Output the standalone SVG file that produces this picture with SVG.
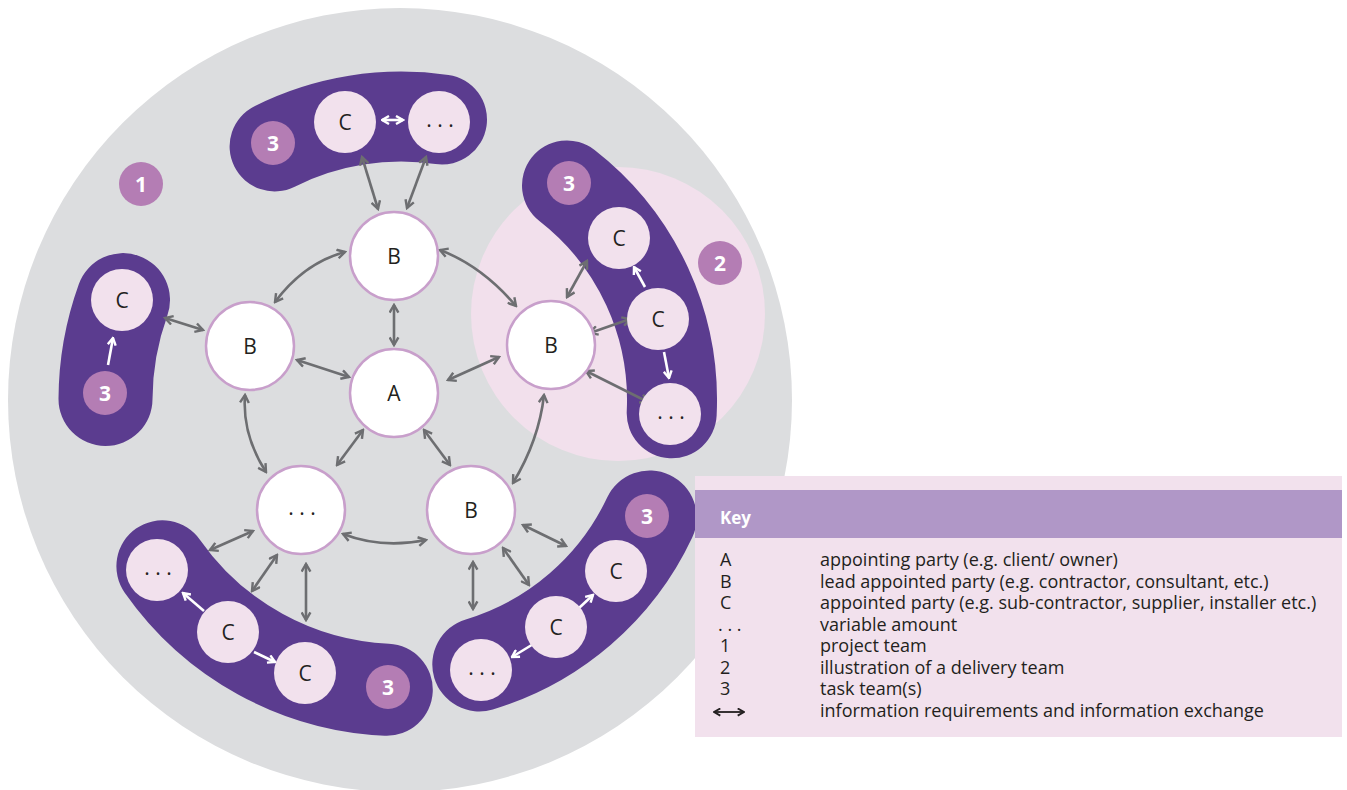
<svg xmlns="http://www.w3.org/2000/svg" width="1347" height="790" viewBox="0 0 1347 790">
<defs>
<style>
.t{font-family:"Open Sans","Liberation Sans",sans-serif;fill:#231f20}
.n{fill:#fff;stroke:#c89fcb;stroke-width:2.5}
.c{fill:#f2e1ed}
.lbl{font-size:21px;text-anchor:middle}
.badge{fill:#b47db4}
.bt{font-family:"Open Sans","Liberation Sans",sans-serif;font-weight:bold;font-size:21px;fill:#fff;text-anchor:middle}
.band{fill:none;stroke:#5b3c8f;stroke-linecap:round}
.conn{fill:none;stroke:#6d6e71;stroke-width:2.6;marker-start:url(#ag);marker-end:url(#ag)}
.w1{fill:none;stroke:#fff;stroke-width:2.6;marker-end:url(#aw)}
.w2{fill:none;stroke:#fff;stroke-width:2.6;marker-start:url(#aw);marker-end:url(#aw)}
.key{font-family:"Open Sans","Liberation Sans",sans-serif;font-size:18px;fill:#231f20}
</style>
<marker id="ag" viewBox="0 0 10 10" refX="8.5" refY="5" markerWidth="11" markerHeight="11" markerUnits="userSpaceOnUse" orient="auto-start-reverse"><path d="M1.5,1 L8.5,5 L1.5,9" fill="none" stroke="#6d6e71" stroke-width="2.2"/></marker>
<marker id="aw" viewBox="0 0 10 10" refX="8.5" refY="5" markerWidth="10" markerHeight="10" markerUnits="userSpaceOnUse" orient="auto-start-reverse"><path d="M1.5,1 L8.5,5 L1.5,9" fill="none" stroke="#fff" stroke-width="2.4"/></marker>
<marker id="ak" viewBox="0 0 10 10" refX="8.5" refY="5" markerWidth="9" markerHeight="9" markerUnits="userSpaceOnUse" orient="auto-start-reverse"><path d="M1.5,1 L8.5,5 L1.5,9" fill="none" stroke="#231f20" stroke-width="2"/></marker>
</defs>
<rect width="1347" height="790" fill="#fff"/>
<g id="project-team">
<circle cx="400" cy="400" r="392" fill="#dcdddf"/>
</g>
<g id="delivery-team">
<circle cx="618" cy="314" r="147" fill="#f2e0ec"/>
</g>
<g id="task-team-bands">
<path class="band" stroke-width="90" d="M274.6,146.4 A283,283 0 0,1 442,119.5"/>
<path class="band" stroke-width="90" d="M567,185.4 A272,272 0 0,1 671.7,413.3"/>
<path class="band" stroke-width="94" d="M123,300.1 A295,295 0 0,0 105.5,399"/>
<path class="band" stroke-width="92" d="M162.4,566.3 A290,290 0 0,0 386.8,689.7"/>
<path class="band" stroke-width="94" d="M649.7,517.5 A276,276 0 0,1 479.3,664.4"/>
</g>
<g id="connectors">
<line class="conn" x1="362" y1="157" x2="378" y2="209"/>
<line class="conn" x1="426" y1="157" x2="407" y2="208"/>
<line class="conn" x1="394" y1="305" x2="394" y2="345"/>
<line class="conn" x1="297" y1="360" x2="349" y2="377"/>
<line class="conn" x1="499" y1="357" x2="448" y2="380"/>
<line class="conn" x1="363" y1="430" x2="337" y2="465"/>
<line class="conn" x1="424" y1="430" x2="450" y2="465"/>
<path class="conn" d="M345,252 Q304,263 275,302"/>
<path class="conn" d="M440,250 Q482,266 516,306"/>
<path class="conn" d="M245,395 Q242,435 266,472"/>
<path class="conn" d="M544,395 Q539,440 513,483"/>
<path class="conn" d="M343,534 Q382,549 426,540"/>
<line class="conn" x1="165" y1="318" x2="203" y2="330"/>
<line class="conn" x1="587" y1="261" x2="567" y2="297"/>
<line class="conn" x1="590" y1="333" x2="630" y2="319"/>
<line class="conn" x1="586" y1="371" x2="648" y2="402"/>
<line class="conn" x1="253" y1="531" x2="210" y2="550"/>
<line class="conn" x1="277" y1="555" x2="252" y2="591"/>
<line class="conn" x1="306" y1="564" x2="306" y2="620"/>
<line class="conn" x1="473" y1="562" x2="473" y2="609"/>
<line class="conn" x1="503" y1="548" x2="529" y2="585"/>
<line class="conn" x1="523" y1="525" x2="566" y2="546"/>
<line class="w2" x1="382" y1="120" x2="403" y2="120"/>
<line class="w1" x1="108" y1="365" x2="113" y2="338"/>
<line class="w1" x1="645" y1="287" x2="634" y2="267"/>
<line class="w1" x1="664" y1="352" x2="669" y2="378"/>
<line class="w1" x1="204" y1="611" x2="183" y2="593"/>
<line class="w1" x1="254" y1="652" x2="275" y2="662"/>
<line class="w1" x1="579" y1="608" x2="593" y2="595"/>
<line class="w1" x1="535" y1="643" x2="512" y2="657"/>
</g>
<g id="node-A"><circle class="n" cx="394" cy="393" r="44"/><text class="t lbl" x="394" y="400.5">A</text></g>
<g id="node-B-top"><circle class="n" cx="394" cy="256" r="44"/><text class="t lbl" x="394" y="263.5">B</text></g>
<g id="node-B-left"><circle class="n" cx="250" cy="346" r="44"/><text class="t lbl" x="250" y="353.5">B</text></g>
<g id="node-B-right"><circle class="n" cx="551" cy="345" r="44"/><text class="t lbl" x="551" y="352.5">B</text></g>
<g id="node-dots-bl"><circle class="n" cx="301" cy="510" r="44"/><text class="t lbl" x="302" y="515">. . .</text></g>
<g id="node-B-br"><circle class="n" cx="471" cy="510" r="44"/><text class="t lbl" x="471" y="517.5">B</text></g>
<g id="top-C"><circle class="c" cx="345" cy="122" r="31"/><text class="t lbl" x="345" y="129.5">C</text></g>
<g id="top-dots"><circle class="c" cx="439" cy="122" r="31"/><text class="t lbl" x="440" y="127">. . .</text></g>
<g id="right-C1"><circle class="c" cx="619" cy="238" r="31"/><text class="t lbl" x="619" y="245.5">C</text></g>
<g id="right-C2"><circle class="c" cx="658" cy="319" r="31"/><text class="t lbl" x="658" y="326.5">C</text></g>
<g id="right-dots"><circle class="c" cx="670" cy="414" r="31"/><text class="t lbl" x="671" y="419">. . .</text></g>
<g id="left-C"><circle class="c" cx="122" cy="300" r="31"/><text class="t lbl" x="122" y="307.5">C</text></g>
<g id="bl-dots"><circle class="c" cx="157" cy="570" r="31"/><text class="t lbl" x="158" y="575">. . .</text></g>
<g id="bl-C1"><circle class="c" cx="228" cy="632" r="31"/><text class="t lbl" x="228" y="639.5">C</text></g>
<g id="bl-C2"><circle class="c" cx="305" cy="673" r="31"/><text class="t lbl" x="305" y="680.5">C</text></g>
<g id="br-C1"><circle class="c" cx="616" cy="571" r="31"/><text class="t lbl" x="616" y="578.5">C</text></g>
<g id="br-C2"><circle class="c" cx="556" cy="627" r="31"/><text class="t lbl" x="556" y="634.5">C</text></g>
<g id="br-dots"><circle class="c" cx="481" cy="670" r="31"/><text class="t lbl" x="482" y="675">. . .</text></g>
<g id="badge-1"><circle class="badge" cx="141" cy="184" r="22"/><text class="bt" x="141" y="192">1</text></g>
<g id="badge-2"><circle class="badge" cx="720" cy="263" r="22"/><text class="bt" x="720" y="271">2</text></g>
<g id="badge-3-top"><circle class="badge" cx="273" cy="143" r="22"/><text class="bt" x="273" y="151">3</text></g>
<g id="badge-3-right"><circle class="badge" cx="569" cy="183" r="22"/><text class="bt" x="569" y="191">3</text></g>
<g id="badge-3-left"><circle class="badge" cx="105" cy="393" r="22"/><text class="bt" x="105" y="401">3</text></g>
<g id="badge-3-bl"><circle class="badge" cx="388" cy="687" r="22"/><text class="bt" x="388" y="695">3</text></g>
<g id="badge-3-br"><circle class="badge" cx="647" cy="516" r="22"/><text class="bt" x="647" y="524">3</text></g>
<g id="key">
<rect x="695" y="476" width="647" height="261" fill="#f2e1ed"/>
<rect x="695" y="490" width="647" height="48" fill="#b097c7"/>
<text x="720" y="524" font-family="Open Sans, Liberation Sans, sans-serif" font-weight="bold" font-size="17" fill="#fff">Key</text>
<text class="key" x="720" y="566">A</text><text class="key" x="820" y="566">appointing party (e.g. client/ owner)</text>
<text class="key" x="720" y="587.5">B</text><text class="key" x="820" y="587.5">lead appointed party (e.g. contractor, consultant, etc.)</text>
<text class="key" x="720" y="609">C</text><text class="key" x="820" y="609">appointed party (e.g. sub-contractor, supplier, installer etc.)</text>
<text class="key" x="718" y="630.5">. . .</text><text class="key" x="820" y="630.5">variable amount</text>
<text class="key" x="720" y="652">1</text><text class="key" x="820" y="652">project team</text>
<text class="key" x="720" y="673.5">2</text><text class="key" x="820" y="673.5">illustration of a delivery team</text>
<text class="key" x="720" y="695">3</text><text class="key" x="820" y="695">task team(s)</text>
<line x1="714" y1="712" x2="744" y2="712" stroke="#231f20" stroke-width="1.8" marker-start="url(#ak)" marker-end="url(#ak)"/><text class="key" x="820" y="716.5">information requirements and information exchange</text>
</g>
</svg>
